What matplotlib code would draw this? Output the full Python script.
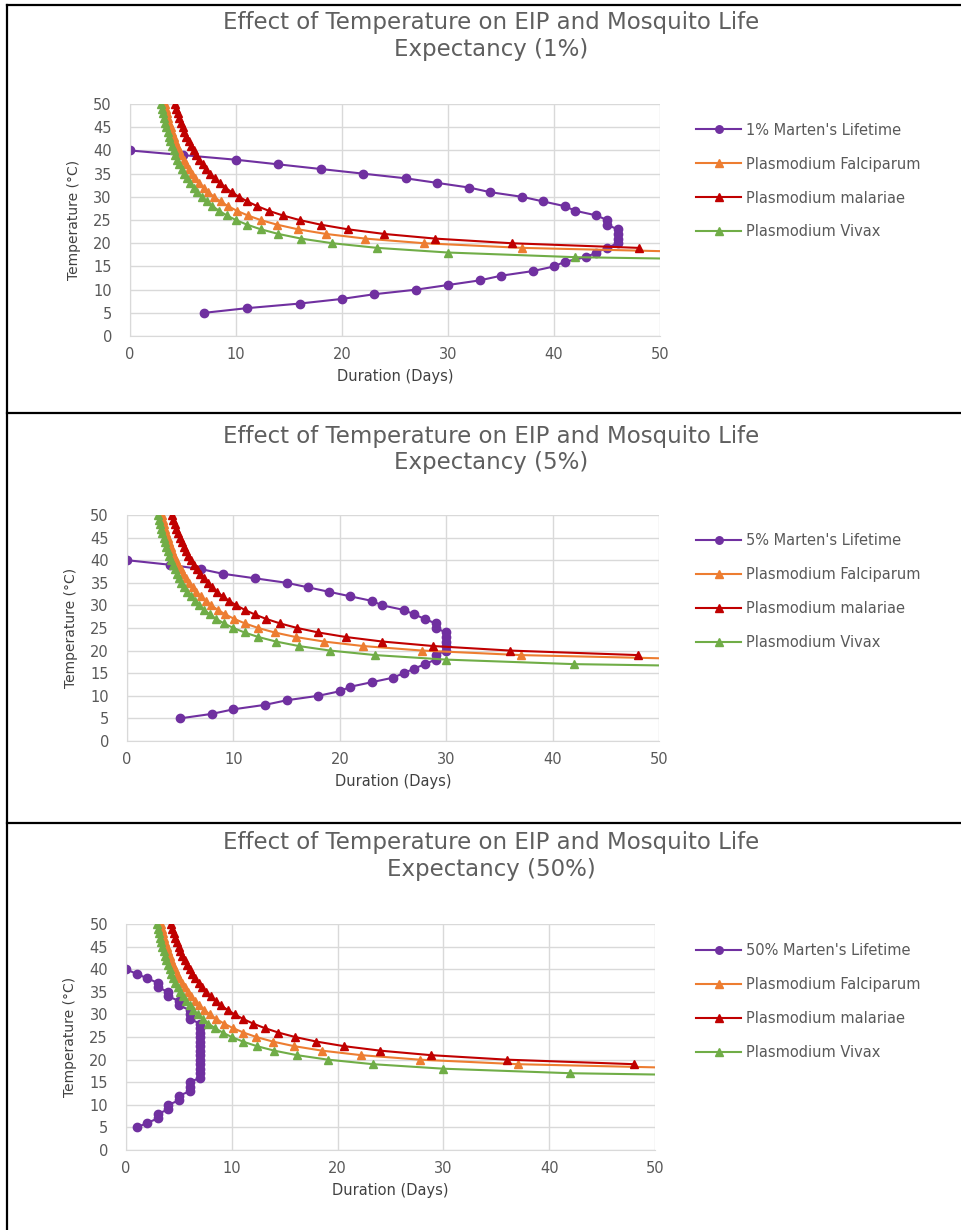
import matplotlib
matplotlib.use("Agg")
import matplotlib.pyplot as plt
from matplotlib.lines import Line2D

plt.rcParams['font.family'] = ['DejaVu Sans']

# temperatures (deg C) for the Marten's lifetime curves
life_temp = [5, 6, 7, 8, 9, 10, 11, 12, 13, 14, 15, 16, 17, 18, 19, 20, 21, 22,
             23, 24, 25, 26, 27, 28, 29, 30, 31, 32, 33, 34, 35, 36, 37, 38, 39, 40]
life_1 = [7, 11, 16, 20, 23, 27, 30, 33, 35, 38, 40, 41, 43, 44, 45, 46, 46, 46,
          46, 45, 45, 44, 42, 41, 39, 37, 34, 32, 29, 26, 22, 18, 14, 10, 5, 0]
life_5 = [5, 8, 10, 13, 15, 18, 20, 21, 23, 25, 26, 27, 28, 29, 29, 30, 30, 30,
          30, 30, 29, 29, 28, 27, 26, 24, 23, 21, 19, 17, 15, 12, 9, 7, 4, 0]
life_50 = [1, 2, 3, 3, 4, 4, 5, 5, 6, 6, 6, 7, 7, 7, 7, 7, 7, 7,
           7, 7, 7, 7, 7, 7, 6, 6, 6, 5, 5, 4, 4, 3, 3, 2, 1, 0]

# extrinsic incubation period (days)
falc_temp = [50, 49, 48, 47, 46, 45, 44, 43, 42, 41, 40, 39, 38, 37, 36, 35, 34,
             33, 32, 31, 30, 29, 28, 27, 26, 25, 24, 23, 22, 21, 20, 19, 18]
falc_days = [3.26, 3.36, 3.47, 3.58, 3.70, 3.83, 3.96, 4.11, 4.27, 4.44, 4.63,
             4.83, 5.05, 5.29, 5.55, 5.84, 6.17, 6.53, 6.94, 7.40, 7.93, 8.54,
             9.25, 10.09, 11.10, 12.33, 13.88, 15.86, 18.50, 22.20, 27.75, 37.00, 55.50]
mal_temp = [50, 49, 48, 47, 46, 45, 44, 43, 42, 41, 40, 39, 38, 37, 36, 35, 34,
            33, 32, 31, 30, 29, 28, 27, 26, 25, 24, 23, 22, 21, 20, 19]
mal_days = [4.24, 4.36, 4.50, 4.65, 4.80, 4.97, 5.14, 5.33, 5.54, 5.76, 6.00,
            6.26, 6.55, 6.86, 7.20, 7.58, 8.00, 8.47, 9.00, 9.60, 10.29, 11.08,
            12.00, 13.09, 14.40, 16.00, 18.00, 20.57, 24.00, 28.80, 36.00, 48.00]
viv_temp = [50, 49, 48, 47, 46, 45, 44, 43, 42, 41, 40, 39, 38, 37, 36, 35, 34,
            33, 32, 31, 30, 29, 28, 27, 26, 25, 24, 23, 22, 21, 20, 19, 18, 17, 16]
viv_days = [2.96, 3.04, 3.13, 3.23, 3.33, 3.44, 3.56, 3.68, 3.82, 3.96, 4.12,
            4.29, 4.47, 4.67, 4.88, 5.12, 5.38, 5.68, 6.00, 6.36, 6.77, 7.24,
            7.78, 8.40, 9.13, 10.00, 11.05, 12.35, 14.00, 16.15, 19.09, 23.33,
            30.00, 42.00, 70.00]

percents = ["1%", "5%", "50%"]
lifetimes = [life_1, life_5, life_50]

PURPLE = '#7030A0'
ORANGE = '#ED7D31'
RED = '#C00000'
GREEN = '#70AD47'
GREY = '#595959'

fig = plt.figure(figsize=(9.62, 12.3), dpi=100)

# axes rectangles (left, bottom, width, height) in figure fraction
rects = [(0.1351, 0.7268, 0.551, 0.1886),
         (0.1320, 0.3976, 0.553, 0.1837),
         (0.1310, 0.0650, 0.550, 0.1837)]
title_y = [0.9707, 0.6347, 0.3042]
legend_y = [0.911, 0.577, 0.244]

for i in range(3):
    ax = fig.add_axes(rects[i])
    ax.plot(lifetimes[i], life_temp, color=PURPLE, marker='o', markersize=6,
            lw=1.5, label=percents[i] + " Marten's Lifetime")
    ax.plot(falc_days, falc_temp, color=ORANGE, marker='^', markersize=6,
            lw=1.5, label='Plasmodium Falciparum')
    ax.plot(mal_days, mal_temp, color=RED, marker='^', markersize=6,
            lw=1.5, label='Plasmodium malariae')
    ax.plot(viv_days, viv_temp, color=GREEN, marker='^', markersize=6,
            lw=1.5, label='Plasmodium Vivax')

    ax.set_xlim(0, 50)
    ax.set_ylim(0, 50)
    ax.set_xticks(range(0, 51, 10))
    ax.set_yticks(range(0, 51, 5))
    ax.grid(True, color='#D9D9D9', lw=1)
    ax.set_axisbelow(True)
    for side in ['top', 'right']:
        ax.spines[side].set_visible(False)
    for side in ['left', 'bottom']:
        ax.spines[side].set_color('#D9D9D9')
    ax.tick_params(length=0, labelsize=10.5, colors=GREY)
    ax.tick_params(axis='x', pad=8)
    ax.tick_params(axis='y', pad=13)
    ax.set_xlabel('Duration (Days)', fontsize=10.5, color='#404040', labelpad=5)
    ax.set_ylabel('Temperature (°C)', fontsize=10, color='#404040', labelpad=9)

    fig.text(0.511, title_y[i],
             'Effect of Temperature on EIP and Mosquito Life\nExpectancy (' + percents[i] + ')',
             ha='center', va='center', fontsize=16.5, color='#5f5f5f', linespacing=1.2)

    ax.legend(loc='upper left', bbox_to_anchor=(0.71, legend_y[i]),
              bbox_transform=fig.transFigure, frameon=False, fontsize=10.5,
              labelcolor=GREY, handlelength=3.1, handletextpad=0.3,
              labelspacing=1.3, markerscale=0.9)

# panel frames
frame = dict(color='black', lw=1.6, transform=fig.transFigure)
fig.add_artist(Line2D([0.0073, 1.0], [0.996, 0.996], **frame))
fig.add_artist(Line2D([0.0073, 0.0073], [0.0, 0.996], **frame))
fig.add_artist(Line2D([0.0073, 1.0], [0.6642, 0.6642], **frame))
fig.add_artist(Line2D([0.0073, 1.0], [0.3309, 0.3309], **frame))

fig.savefig('out.png', dpi=100)
